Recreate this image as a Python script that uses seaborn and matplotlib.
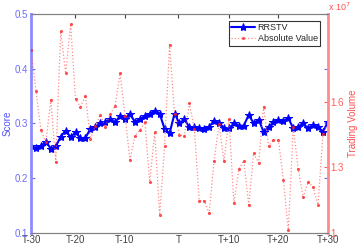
import matplotlib
matplotlib.use('Agg')
import matplotlib.pyplot as plt
import seaborn as sns
import numpy as np

# event window, one point per step from T-30 to T+30
steps = list(range(61))

score = [0.258, 0.255, 0.259, 0.267, 0.254, 0.258, 0.276, 0.287, 0.275, 0.284,
         0.273, 0.274, 0.290, 0.294, 0.300, 0.303, 0.308, 0.302, 0.314, 0.309,
         0.317, 0.303, 0.308, 0.313, 0.318, 0.323, 0.318, 0.290, 0.282, 0.318,
         0.300, 0.308, 0.293, 0.293, 0.291, 0.290, 0.294, 0.305, 0.301, 0.292,
         0.291, 0.300, 0.296, 0.296, 0.316, 0.300, 0.307, 0.285, 0.293, 0.302,
         0.307, 0.304, 0.310, 0.291, 0.294, 0.300, 0.291, 0.297, 0.294, 0.285,
         0.303]

# trading volume, in units of 1e7
volume = [1.836, 1.650, 1.470, 1.414, 1.609, 1.323, 1.921, 1.729, 1.954, 1.610,
          1.577, 1.627, 1.429, 1.490, 1.539, 1.483, 1.543, 1.581, 1.729, 1.536,
          1.334, 1.444, 1.470, 1.505, 1.234, 1.460, 1.082, 1.399, 1.860, 1.543,
          1.449, 1.441, 1.592, 1.475, 1.148, 1.148, 1.090, 1.330, 1.498, 1.327,
          1.522, 1.136, 1.292, 1.330, 1.128, 1.364, 1.320, 1.577, 1.396, 1.425,
          1.425, 1.243, 1.014, 1.483, 1.292, 1.163, 1.234, 1.209, 1.129, 1.452,
          1.500]

tick_pos = [0, 8.9, 18.9, 29.8, 40.1, 50, 60]
tick_labels = ['T-30', 'T-20', 'T-10', 'T', 'T+10', 'T+20', 'T+30']

sns.set_style('white')
plt.rcParams['font.family'] = ['Liberation Sans', 'DejaVu Sans']

fig = plt.figure(figsize=(3.59, 2.45), dpi=100)
ax = fig.add_axes([0.0864, 0.049, 0.827, 0.894])
ax2 = ax.twinx()

sns.lineplot(x=steps, y=volume, ax=ax2, color='#ff5a5a', linestyle=':', linewidth=0.9,
             marker='.', markersize=3, markeredgecolor='#ff2020', markerfacecolor='#ff2020',
             alpha=0.7, label='Absolute Value', legend=False)
sns.lineplot(x=steps, y=score, ax=ax, color='#0000ff', linewidth=1.5,
             marker='*', markersize=6, markeredgecolor='#0000ff',
             label='RRSTV', legend=False)

ax.set_xlim(0, 60)
ax.set_ylim(0.1, 0.5)
ax2.set_ylim(1.0, 2.0)
ax.set_xticks(tick_pos)
ax.set_xticklabels(tick_labels)
ax.set_yticks([0.1, 0.2, 0.3, 0.4, 0.5])
ax.set_yticklabels(['0.1', '0.2', '0.3', '0.4', '0.5'])
ax2.set_yticks([1.0, 1.3, 1.6])
ax2.set_yticklabels(['1', '1.3', '1.6'])

ax.tick_params(axis='x', direction='in', length=3, labelsize=7, colors='#404040',
               top=True, pad=1.5)
ax.tick_params(axis='y', direction='in', length=3, labelsize=7, colors='#6b6bff',
               right=True, pad=2)
ax2.tick_params(axis='y', direction='in', length=3, labelsize=7, colors='#ff5a5a', pad=2)

for a in (ax, ax2):
    a.spines['top'].set_color('#808080')
    a.spines['bottom'].set_color('#808080')
    a.spines['top'].set_linewidth(0.8)
    a.spines['bottom'].set_linewidth(0.8)
ax.spines['left'].set_color('#8c8cff')
ax.spines['left'].set_linewidth(2)
ax2.spines['left'].set_visible(False)
ax.spines['right'].set_visible(False)
ax2.spines['right'].set_color('#ff8c8c')
ax2.spines['right'].set_linewidth(2)

ax.set_xlabel('')
ax.set_ylabel('Score', color='#5050ff', fontsize=7, labelpad=2)
ax2.set_ylabel('Trading Volume', color='#ff5050', fontsize=7, labelpad=3)
ax2.text(1.0, 1.003, r'x 10$^7$', transform=ax2.transAxes, color='#ff5050',
         fontsize=6.5, ha='left', va='bottom')

h1, l1 = ax.get_legend_handles_labels()
h2, l2 = ax2.get_legend_handles_labels()
leg = ax2.legend(h1 + h2, l1 + l2, loc='upper right', fontsize=6.5, frameon=True,
                 fancybox=False, borderpad=0.3, labelspacing=0.2, handlelength=2.6,
                 handletextpad=0.3, bbox_to_anchor=(0.99, 0.99))
leg.get_frame().set_edgecolor('black')
leg.get_frame().set_linewidth(0.8)

fig.savefig('out.png', dpi=100)
